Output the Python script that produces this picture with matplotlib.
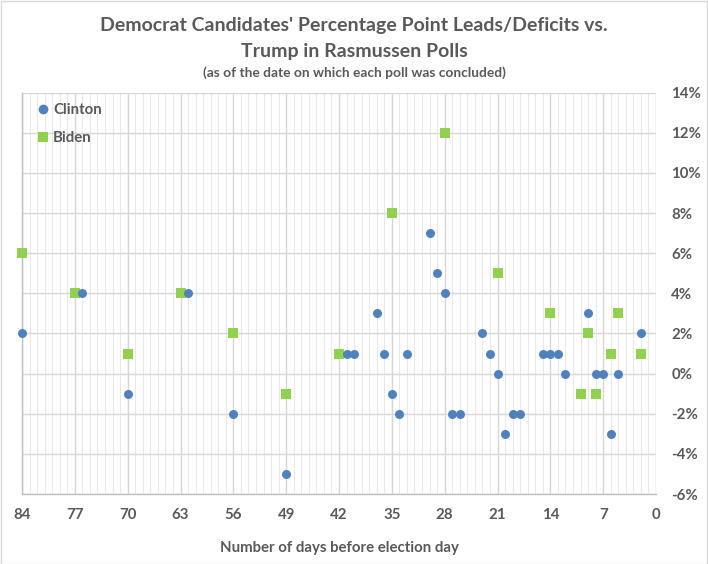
import matplotlib
matplotlib.use("Agg")
import matplotlib.pyplot as plt
from matplotlib.ticker import MultipleLocator, FuncFormatter
from matplotlib.lines import Line2D

clinton_days = [84, 76, 70, 62, 56, 49, 41, 40, 37, 36, 35, 34, 33, 30, 29, 28, 27, 26,
                23, 22, 21, 20, 19, 18, 15, 14, 13, 12, 9, 8, 7, 6, 5, 2]
clinton_lead = [2, 4, -1, 4, -2, -5, 1, 1, 3, 1, -1, -2, 1, 7, 5, 4, -2, -2,
                2, 1, 0, -3, -2, -2, 1, 1, 1, 0, 3, 0, 0, -3, 0, 2]
biden_days = [84, 77, 70, 63, 56, 49, 42, 35, 28, 21, 14, 10, 9, 8, 6, 5, 2]
biden_lead = [6, 4, 1, 4, 2, -1, 1, 8, 12, 5, 3, -1, 2, -1, 1, 3, 1]

x_ticks = [84, 77, 70, 63, 56, 49, 42, 35, 28, 21, 14, 7, 0]

title_line1 = "Democrat Candidates' Percentage Point Leads/Deficits vs."
title_line2 = "Trump in Rasmussen Polls"
subtitle = "(as of the date on which each poll was concluded)"
xlabel = "Number of days before election day"

plt.rcParams['font.family'] = ['Lato', 'DejaVu Sans']
text_color = '#595959'
blue = '#4f81bd'
green = '#92d050'

fig = plt.figure(figsize=(7.08, 5.64), dpi=100)
W, H = 708, 564
ax = fig.add_axes([22 / W, 1 - 494 / H, (656 - 22) / W, (494 - 92.7) / H])

ax.scatter(biden_days, biden_lead, marker='s', s=46, color=green, zorder=3, linewidths=0, clip_on=False)
ax.scatter(clinton_days, clinton_lead, marker='o', s=42, color=blue, zorder=4, linewidths=0, clip_on=False)

ax.set_xlim(84, 0)
ax.set_ylim(-6, 14)
ax.set_xticks(x_ticks)
ax.xaxis.set_minor_locator(MultipleLocator(1))
ax.yaxis.set_major_locator(MultipleLocator(2))
ax.yaxis.set_major_formatter(FuncFormatter(lambda v, p: f"{int(round(v))}%"))
ax.yaxis.tick_right()

ax.grid(which='major', axis='both', color='#d6d6d6', linewidth=1.0, zorder=0)
ax.grid(which='minor', axis='x', color='#e8e8e8', linewidth=0.8, zorder=0)
ax.set_axisbelow(True)

for side in ['top', 'right']:
    ax.spines[side].set_visible(False)
for side in ['left', 'bottom']:
    ax.spines[side].set_color('#bfbfbf')
    ax.spines[side].set_linewidth(1.0)

ax.tick_params(axis='both', which='both', length=0)
ax.tick_params(axis='x', pad=10, labelsize=10.8, labelcolor=text_color)
ax.tick_params(axis='y', pad=11, labelsize=10.8, labelcolor=text_color)
for lbl in ax.get_xticklabels() + ax.get_yticklabels():
    lbl.set_fontweight('bold')

ax.set_xlabel(xlabel, fontsize=10.8, fontweight='bold', color=text_color, labelpad=14)

fig.text(0.5, 1 - 25 / H, title_line1, ha='center', va='center', fontsize=14,
         fontweight='bold', color=text_color)
fig.text(0.5, 1 - 51 / H, title_line2, ha='center', va='center', fontsize=14,
         fontweight='bold', color=text_color)
fig.text(0.5, 1 - 73 / H, subtitle, ha='center', va='center', fontsize=9.9,
         fontweight='bold', color=text_color)

handles = [Line2D([], [], marker='o', linestyle='none', markersize=7, color=blue, markeredgewidth=0),
           Line2D([], [], marker='s', linestyle='none', markersize=7, color=green, markeredgewidth=0)]
leg = ax.legend(handles, ['Clinton', 'Biden'], loc='upper left', frameon=False,
                bbox_to_anchor=(-0.002, 1.008), handletextpad=0.05, labelspacing=0.95,
                prop={'size': 10.8, 'weight': 'bold'}, handlelength=1.2)
for t in leg.get_texts():
    t.set_color(text_color)

fig.patches.append(plt.Rectangle((0.5 / W, 0.5 / H), 1 - 1.5 / W, 1 - 1.5 / H, transform=fig.transFigure,
                                 fill=False, edgecolor='#d9d9d9', linewidth=1.0))

fig.savefig('out.png', dpi=100)
